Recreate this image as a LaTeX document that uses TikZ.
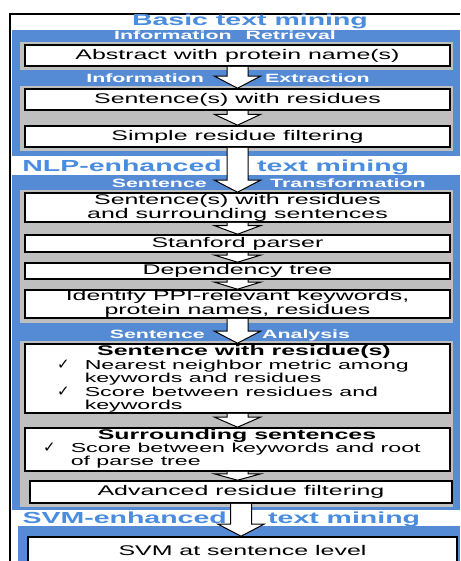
\documentclass[tikz,border=0pt]{standalone}
\usepackage{fontspec}
\setmainfont{Liberation Sans}[FakeStretch=1.78]
\newfontfamily\checkfont{DejaVu Sans}
\usepackage{tikz}
\usetikzlibrary{calc}

\definecolor{panelblue}{RGB}{84,139,212}
\definecolor{titleblue}{RGB}{74,140,222}
\definecolor{bandgray}{RGB}{191,191,191}

\newcommand{\tick}{{\checkfont\fontsize{15}{12.8}\selectfont ✓}}

% white block arrow from the bottom of one box to the top of the next
\newcommand{\flowarrow}[2]{%
  \draw[blockarrow] let \p1=(#1.south), \p2=(#2.north), \n1={min(12,0.75*(\y1-\y2))} in
    (\x1-10.5pt,\y1) -- (\x1-10.5pt,\y2+\n1*1pt) -- (\x1-23pt,\y2+\n1*1pt) -- (\x1,\y2)
    -- (\x1+23pt,\y2+\n1*1pt) -- (\x1+10.5pt,\y2+\n1*1pt) -- (\x1+10.5pt,\y1);}

\begin{document}
\begin{tikzpicture}[
    x=1pt, y=-1pt,
    panel/.style={rectangle, fill=panelblue, inner sep=0pt, minimum width=448pt},
    band/.style={rectangle, fill=bandgray, inner sep=0pt, minimum width=433pt},
    stepbox/.style={rectangle, draw=black, line width=1.6pt, fill=white, inner sep=0pt, minimum width=425pt, align=center, font=\fontsize{14}{14}\selectfont},
    sectiontitle/.style={text=titleblue, font=\fontsize{16}{16}\selectfont\bfseries, inner sep=0pt},
    panellabel/.style={text=white, font=\fontsize{12}{12}\selectfont\bfseries, inner sep=0pt},
    boxhead/.style={font=\fontsize{14}{14}\selectfont\bfseries, inner sep=0pt},
    checklist/.style={font=\fontsize{13}{12.8}\selectfont, inner sep=0pt},
    blockarrow/.style={draw=black, fill=white, line width=1pt, line join=miter}
]
\useasboundingbox (0,0) rectangle (460,561);

% Frame
\draw[line width=2pt] (10,561) -- (10,14) -- (460,14);

% Basic text mining
\node[sectiontitle, anchor=base] (basictitle) at (250,26) {Basic text mining};
\node[panel, minimum height=126pt] (basicpanel) at (236,93) {};
\node[panellabel, anchor=base] (retrieval) at (225,40) {Information\hspace{14pt}Retrieval};
\node[band, minimum height=28pt] (retrievalband) at (236.5,56) {};
\node[stepbox, minimum height=21pt] (abstract) at (237.5,55.5) {Abstract with protein name(s)};
\node[panellabel, anchor=base east] (extractionL) at (204,82.5) {Information};
\node[panellabel, anchor=base west] (extractionR) at (265,82.5) {Extraction};
\node[band, minimum height=65pt] (extractionband) at (236.5,118.5) {};
\node[stepbox, minimum height=21pt] (residues) at (237.5,99.5) {Sentence(s) with residues};
\node[stepbox, minimum height=21pt] (simplefilter) at (237.5,136.5) {Simple residue filtering};

% NLP-enhanced text mining
\node[sectiontitle, anchor=base east] (nlptitleL) at (222,172) {NLP-enhanced};
\node[sectiontitle, anchor=base west] (nlptitleR) at (257,172) {text mining};
\node[panel, minimum height=335pt] (nlppanel) at (236,342.5) {};
\node[panellabel, anchor=base east] (transformL) at (207,187) {Sentence};
\node[panellabel, anchor=base west] (transformR) at (270,187) {Transformation};
\node[band, minimum height=133pt] (transformband) at (236.5,256.5) {};
\node[stepbox, minimum height=29pt] (surrounding) at (237.5,207.5) {Sentence(s) with residues\\and surrounding sentences};
\node[stepbox, minimum height=17pt] (stanford) at (237.5,243.5) {Stanford parser};
\node[stepbox, minimum height=16pt] (deptree) at (237.5,271) {Dependency tree};
\node[stepbox, minimum height=28pt] (keywords) at (237.5,304) {Identify PPI-relevant keywords,\\protein names, residues};
\node[panellabel, anchor=base east] (analysisL) at (205,338) {Sentence};
\node[panellabel, anchor=base west] (analysisR) at (262,338) {Analysis};
\node[band, minimum height=166pt] (analysisband) at (236.5,424) {};
\node[stepbox, minimum height=69pt] (withres) at (237.5,378.5) {};
\node[boxhead, anchor=base] (withreshead) at (244,355) {Sentence with residue(s)};
\node[checklist, anchor=base west] (withreslist) at (57,369.5) {\begin{tabular}[t]{@{}l@{\hspace{15pt}}l@{}}
  \tick & Nearest neighbor metric among\\
        & keywords and residues\\
  \tick & Score between residues and\\
        & keywords
\end{tabular}};
\node[stepbox, minimum height=43pt] (surroundsent) at (237.5,449.5) {};
\node[boxhead, anchor=base] (surroundhead) at (237,439.3) {Surrounding sentences};
\node[checklist, anchor=base west] (surroundlist) at (43,452.7) {\begin{tabular}[t]{@{}l@{\hspace{15pt}}l@{}}
  \tick & Score between keywords and root\\
        & of parse tree
\end{tabular}};
\node[stepbox, minimum width=422pt, minimum height=22pt] (advanced) at (241,492) {Advanced residue filtering};

% SVM-enhanced text mining
\node[sectiontitle, anchor=base east] (svmtitleL) at (227,523) {SVM-enhanced};
\node[sectiontitle, anchor=base west] (svmtitleR) at (268,523) {text mining};
\node[panel, minimum width=442pt, minimum height=36pt] (svmpanel) at (239,544) {};
\node[stepbox, minimum width=429pt, minimum height=26pt] (svm) at (242.5,550) {SVM at sentence level};

% Arrows
\flowarrow{abstract}{residues}
\flowarrow{residues}{simplefilter}
\flowarrow{simplefilter}{surrounding}
\flowarrow{surrounding}{stanford}
\flowarrow{stanford}{deptree}
\flowarrow{deptree}{keywords}
\flowarrow{keywords}{withres}
\flowarrow{withres}{surroundsent}
\flowarrow{surroundsent}{advanced}
\flowarrow{advanced}{svm}

\end{tikzpicture}
\end{document}
